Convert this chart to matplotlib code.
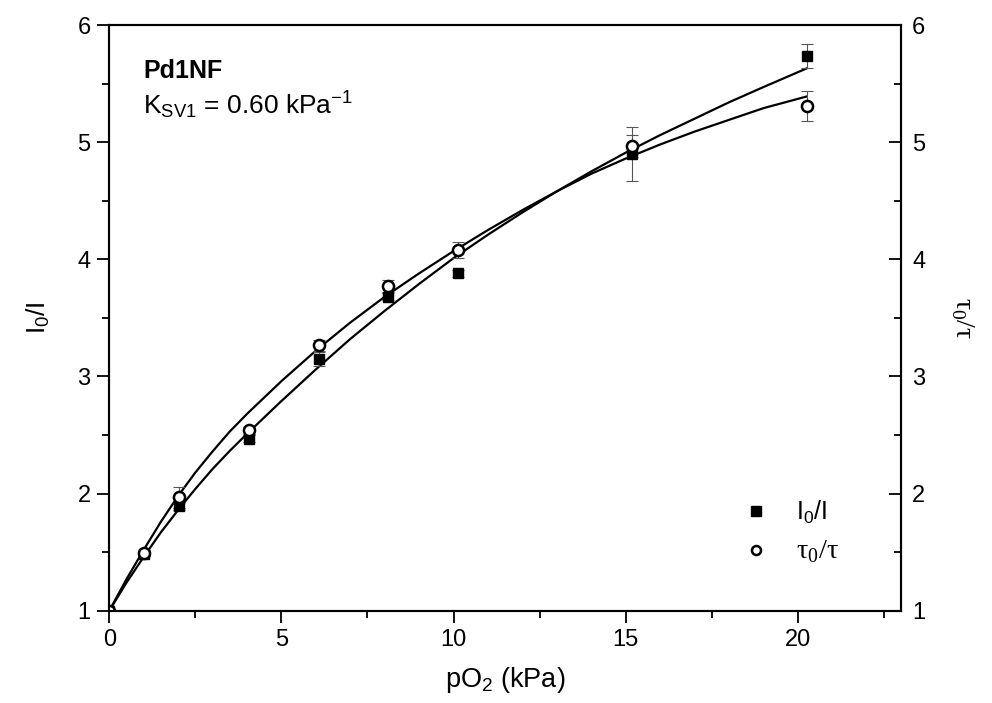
#!/usr/bin/env python3
"""Stern-Volmer plot for Pd1NF: intensity and lifetime ratios vs oxygen partial pressure."""

import matplotlib
matplotlib.use('Agg')
import matplotlib.pyplot as plt
from matplotlib.lines import Line2D
from matplotlib.ticker import MultipleLocator

# Measured points
po2 = [0.0, 1.013, 2.026, 4.052, 6.078, 8.104, 10.13, 15.195, 20.26]
i_ratio = [1.0, 1.485, 1.89, 2.47, 3.15, 3.68, 3.88, 4.90, 5.735]
i_err = [0.0, 0.02, 0.03, 0.03, 0.06, 0.03, 0.03, 0.23, 0.10]
tau_ratio = [1.0, 1.49, 1.97, 2.54, 3.265, 3.77, 4.08, 4.966, 5.31]
tau_err = [0.0, 0.02, 0.09, 0.03, 0.05, 0.05, 0.07, 0.095, 0.13]

# Fitted curves (two-site model)
fit_x = [0, 0.5, 1, 1.5, 2, 2.5, 3, 3.5, 4, 5, 6, 7, 8, 9, 10,
         11, 12, 13, 14, 15, 16, 17, 18, 19, 20.26]
fit_i = [1.00, 1.24, 1.46, 1.67, 1.86, 2.04, 2.21, 2.365, 2.51, 2.79, 3.06,
         3.32, 3.56, 3.79, 4.01, 4.21, 4.40, 4.58, 4.75, 4.91, 5.06, 5.20,
         5.34, 5.47, 5.63]
fit_tau = [1.00, 1.27, 1.52, 1.76, 1.98, 2.18, 2.36, 2.53, 2.68, 2.96, 3.22,
           3.46, 3.68, 3.88, 4.07, 4.25, 4.42, 4.58, 4.73, 4.86, 4.98, 5.09,
           5.19, 5.29, 5.39]

plt.rcParams['font.family'] = 'Liberation Sans'
plt.rcParams['mathtext.fontset'] = 'custom'
plt.rcParams['mathtext.rm'] = 'Liberation Sans'
plt.rcParams['mathtext.it'] = 'Liberation Sans:italic'
plt.rcParams['mathtext.bf'] = 'Liberation Sans:bold'

fig = plt.figure(figsize=(9.92, 7.03), dpi=100)
ax = fig.add_axes([0.1102, 0.1313, 0.7981, 0.8331])

ax.plot(fit_x, fit_i, color='black', lw=1.6, zorder=2)
ax.plot(fit_x, fit_tau, color='black', lw=1.6, zorder=2)

ax.errorbar(po2, i_ratio, yerr=i_err, fmt='none', ecolor='#555555',
            elinewidth=0.8, capsize=4.5, capthick=0.8, zorder=3)
ax.errorbar(po2, tau_ratio, yerr=tau_err, fmt='none', ecolor='#555555',
            elinewidth=0.8, capsize=4.5, capthick=0.8, zorder=3)
ax.plot(po2, i_ratio, 's', color='black', ms=7.5, zorder=4)
ax.plot(po2, tau_ratio, 'o', mfc='white', mec='black', ms=8, mew=1.8, zorder=5)

ax.set_xlim(0, 23)
ax.set_ylim(1, 6)
ax.xaxis.set_major_locator(MultipleLocator(5))
ax.xaxis.set_minor_locator(MultipleLocator(2.5))
ax.yaxis.set_major_locator(MultipleLocator(1))
ax.yaxis.set_minor_locator(MultipleLocator(0.5))

for s in ax.spines.values():
    s.set_linewidth(1.5)
ax.tick_params(which='major', direction='out', length=8.5, width=1.3,
               labelsize=17, pad=5)
ax.tick_params(which='minor', direction='out', length=5, width=1.3)

ax.set_xlabel(r'pO$_\mathregular{2}$ (kPa)', fontsize=19.5, labelpad=10)
ax.set_ylabel(r'I$_\mathregular{0}$/I', fontsize=19, labelpad=18)

# Right axis carries the lifetime ratio on the same scale
ax2 = ax.twinx()
ax2.set_ylim(1, 6)
ax2.yaxis.set_major_locator(MultipleLocator(1))
ax2.yaxis.set_minor_locator(MultipleLocator(0.5))
ax2.tick_params(which='major', direction='in', length=8.5, width=1.3,
                labelsize=17, pad=8)
ax2.tick_params(which='minor', direction='in', length=5, width=1.3)
for s in ax2.spines.values():
    s.set_linewidth(1.5)
ax2.set_ylabel(r'τ$_\mathregular{0}$/τ', fontsize=20, rotation=-90,
               labelpad=36, family='Liberation Serif')

ax.text(0.99, 5.545, 'Pd1NF', fontsize=18, fontweight='bold', va='baseline')
ax.text(0.99, 5.237, r'K$_\mathregular{SV1}$ = 0.60 kPa$^\mathregular{-1}$',
        fontsize=19, va='baseline')

handles = [
    Line2D([], [], ls='none', marker='s', color='black', ms=7),
    Line2D([], [], ls='none', marker='o', mfc='white', mec='black', ms=6.5, mew=1.8),
]
labels = [r'I$_\mathregular{0}$/I', r'τ$_\mathregular{0}$/τ']
leg = ax.legend(handles, labels, loc='upper left', bbox_to_anchor=(0.8025, 0.191),
                frameon=False, fontsize=18, handlelength=0.9, handletextpad=1.15,
                labelspacing=0.5, borderpad=0, borderaxespad=0)
leg.get_texts()[1].set_family('Liberation Serif')
leg.get_texts()[1].set_fontsize(20.5)

fig.savefig('out.png', dpi=100)
